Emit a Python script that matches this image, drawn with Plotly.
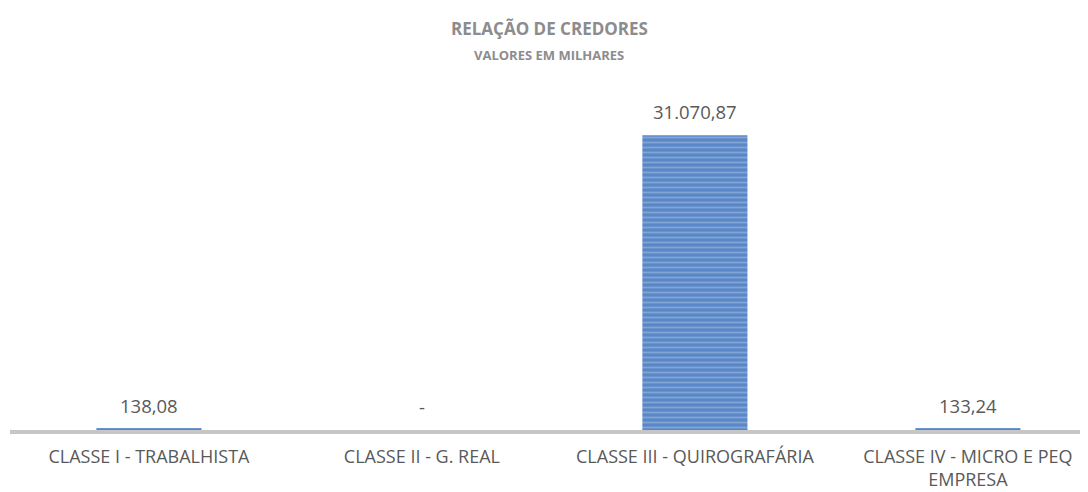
import plotly.graph_objects as go

categories = ["CLASSE I - TRABALHISTA", "CLASSE II - G. REAL",
              "CLASSE III - QUIROGRAFÁRIA", "CLASSE IV - MICRO E PEQ<br>EMPRESA"]
values = [138.08, 0.0, 31070.87, 133.24]
title_main = "RELAÇÃO DE CREDORES"
title_sub = "VALORES EM MILHARES"


def fmt_br(v):
    if v == 0:
        return "-"
    s = f"{v:,.2f}"
    return s.replace(",", "X").replace(".", ",").replace("X", ".")


labels = [fmt_br(v) for v in values]

fig = go.Figure()
fig.add_trace(go.Bar(
    x=categories, y=values,
    marker=dict(color="#5A87C6", line=dict(width=0),
                pattern=dict(shape="-", fgcolor="#A9C3E6", bgcolor="#5A87C6",
                             size=5, solidity=0.35)),
    hoverinfo="skip",
))

for c, v, t in zip(categories, values, labels):
    fig.add_annotation(x=c, y=v, text=t, showarrow=False, yanchor="bottom",
                       yshift=9, font=dict(family="Open Sans", size=18.5, color="#595959"))

fig.add_annotation(xref="paper", yref="paper", x=0.5, y=1, yshift=66.5, yanchor="middle",
                   text="<b>" + title_main + "</b>", showarrow=False,
                   font=dict(family="Open Sans", size=17, color="#8C8C8E"))
fig.add_annotation(xref="paper", yref="paper", x=0.5, y=1, yshift=40.3, yanchor="middle",
                   text="<b>" + title_sub + "</b>", showarrow=False,
                   font=dict(family="Open Sans", size=13, color="#8C8C8E"))

fig.update_layout(
    width=1080, height=484,
    margin=dict(l=2, r=0, t=87, b=62),
    paper_bgcolor="white", plot_bgcolor="white",
    bargap=0.615, showlegend=False,
    xaxis=dict(showline=True, linecolor="#C6C6C6", linewidth=4,
               range=[-0.509, 3.44],
               ticks="outside", ticklen=7, tickcolor="rgba(0,0,0,0)",
               tickfont=dict(family="Open Sans", size=18, color="#595959"),
               showgrid=False, zeroline=False, fixedrange=True, automargin=False),
    yaxis=dict(visible=False, range=[0, 35300], showgrid=False, zeroline=False),
)

fig.write_html("out.html")
